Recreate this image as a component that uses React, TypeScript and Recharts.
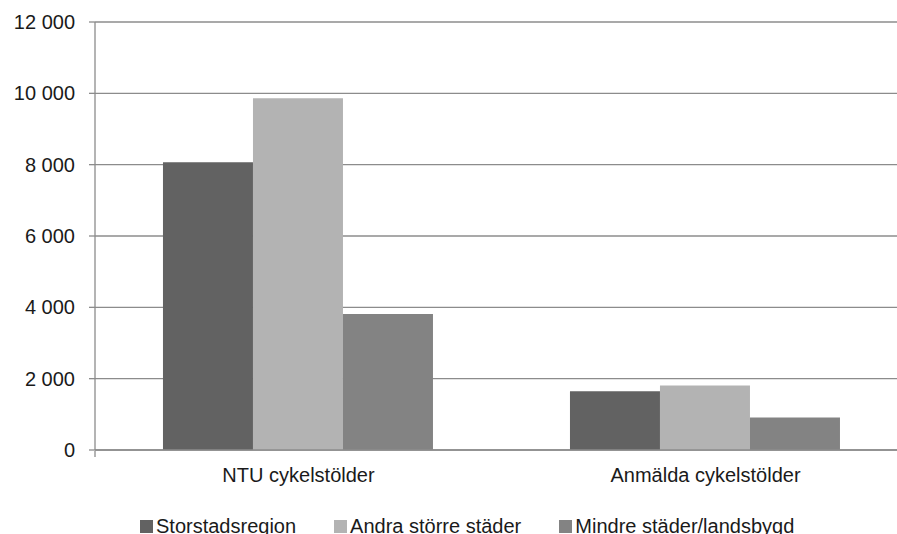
import { BarChart, Bar, XAxis, YAxis, CartesianGrid } from 'recharts'

const categories = ['NTU cykelstölder', 'Anmälda cykelstölder']
const storstad = [8070, 1650]
const andraStorre = [9860, 1810]
const mindre = [3810, 910]
const yTicks = [0, 2000, 4000, 6000, 8000, 10000, 12000]

const seriesList = [
  { key: 'storstad', name: 'Storstadsregion', color: '#626262' },
  { key: 'andra', name: 'Andra större städer', color: '#b3b3b3' },
  { key: 'mindre', name: 'Mindre städer/landsbygd', color: '#838383' },
]

const data = categories.map((c, i) => ({
  name: c,
  storstad: storstad[i],
  andra: andraStorre[i],
  mindre: mindre[i],
}))

const fmt = (v: number) => String(v).replace(/\B(?=(\d{3})+(?!\d))/g, ' ')

const FONT = '"Liberation Sans", Arial, Helvetica, sans-serif'
const AXIS = '#8c8c8c'
const TEXT = '#1a1a1a'

function LegendBox() {
  return (
    <div style={{ position: 'absolute', left: 0, top: 515, width: 897, display: 'flex', alignItems: 'center', paddingLeft: 140, fontFamily: FONT, fontSize: 20, color: TEXT }}>
      {seriesList.map((s) => (
        <div key={s.key} style={{ display: 'flex', alignItems: 'center', marginRight: 38 }}>
          <span style={{ width: 13, height: 13, backgroundColor: s.color, marginRight: 3, display: 'inline-block' }} />
          <span>{s.name}</span>
        </div>
      ))}
    </div>
  )
}

export default function App() {
  return (
    <div style={{ position: 'absolute', left: 0, top: 0, width: 897, height: 534, overflow: 'hidden', background: '#fff' }}>
      <BarChart
        width={920}
        height={534}
        data={data}
        margin={{ top: 22, right: 11, bottom: 82, left: 0 }}
        barCategoryGap="16.7%"
        barGap={0}
      >
        <CartesianGrid vertical={false} stroke={AXIS} strokeWidth={1.3} />
        <XAxis
          xAxisId="edges"
          type="number"
          domain={[0, 2]}
          ticks={[0, 1, 2]}
          axisLine={false}
          tickLine={{ stroke: AXIS, strokeWidth: 1.3 }}
          tickSize={6}
          tickFormatter={() => ''}
          height={1}
        />
        <XAxis
          dataKey="name"
          axisLine={{ stroke: AXIS, strokeWidth: 1.3 }}
          tickLine={false}
          tickMargin={12}
          tick={{ fill: TEXT, fontSize: 20, fontFamily: FONT }}
          height={1}
        />
        <YAxis
          width={95}
          domain={[0, 12000]}
          ticks={yTicks}
          tickFormatter={fmt}
          axisLine={{ stroke: AXIS, strokeWidth: 1.3 }}
          tickLine={{ stroke: AXIS, strokeWidth: 1.3 }}
          tickSize={6}
          tickMargin={14}
          tick={{ fill: TEXT, fontSize: 20, fontFamily: FONT }}
          interval={0}
        />
        {seriesList.map((s) => (
          <Bar key={s.key} dataKey={s.key} name={s.name} fill={s.color} isAnimationActive={false} />
        ))}
      </BarChart>
      <LegendBox />
    </div>
  )
}
